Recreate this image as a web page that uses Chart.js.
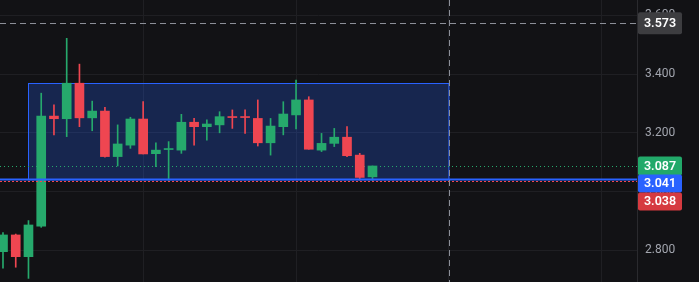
<!DOCTYPE html>
<html>
<head>
<meta charset="utf-8">
<script src="https://cdn.jsdelivr.net/npm/chart.js@4.4.0/dist/chart.umd.min.js"></script>
<style>
  html, body { margin: 0; padding: 0; background: #121215; }
  #wrap { width: 699px; height: 282px; position: relative; }
</style>
</head>
<body>
<div id="wrap"><canvas id="chart"></canvas></div>
<script>
// candles (index = bar number from the left)
var opens  = [2.795, 2.852, 2.778, 2.882, 3.257, 3.248, 3.369, 3.251, 3.274, 3.119,
              3.158, 3.247, 3.129, 3.143, 3.141, 3.236, 3.221, 3.227, 3.255, 3.254,
              3.249, 3.166, 3.221, 3.261, 3.312, 3.141, 3.164, 3.185, 3.124, 3.050];
var highs  = [2.860, 2.855, 2.901, 3.335, 3.295, 3.522, 3.434, 3.308, 3.287, 3.227,
              3.253, 3.306, 3.166, 3.170, 3.263, 3.249, 3.244, 3.272, 3.278, 3.278,
              3.312, 3.249, 3.306, 3.380, 3.323, 3.198, 3.215, 3.221, 3.130, 3.087];
var lows   = [2.739, 2.742, 2.704, 2.878, 3.193, 3.187, 3.221, 3.207, 3.117, 3.087,
              3.147, 3.128, 3.085, 3.039, 3.130, 3.158, 3.175, 3.200, 3.215, 3.198,
              3.155, 3.124, 3.193, 3.213, 3.144, 3.136, 3.153, 3.119, 3.039, 3.038];
var closes = [2.852, 2.778, 2.886, 3.257, 3.248, 3.369, 3.251, 3.274, 3.119, 3.162,
              3.247, 3.128, 3.141, 3.145, 3.236, 3.221, 3.230, 3.255, 3.252, 3.252,
              3.166, 3.223, 3.264, 3.312, 3.144, 3.164, 3.185, 3.122, 3.048, 3.087];

var priceTicks = [2.8, 3.0, 3.2, 3.4, 3.6];
var timeGrid = [11, 23, 35, 47];

// rectangle drawn on the chart
var boxFrom = 2, boxTo = 35, boxLow = 3.041, boxHigh = 3.369;

// crosshair + price lines
var crossIndex = 35, crossPrice = 3.573;
var lastPrice = 3.087, linePrice = 3.041, lowPrice = 3.038;

var UP = '#26a96c', DOWN = '#ef4651', BLUE = '#2962ff';

var idx = opens.map(function (v, i) { return i; });
var colors = idx.map(function (i) { return closes[i] >= opens[i] ? UP : DOWN; });

var overlay = {
    id: 'overlay',
    beforeDatasetsDraw: function (chart) {
        var c = chart.ctx, x = chart.scales.x, y = chart.scales.y, a = chart.chartArea;
        c.save();
        // range box
        var x1 = x.getPixelForValue(boxFrom), x2 = x.getPixelForValue(boxTo);
        var y1 = y.getPixelForValue(boxHigh), y2 = y.getPixelForValue(boxLow);
        c.fillStyle = 'rgba(41,98,255,0.25)';
        c.fillRect(x1, y1, x2 - x1, y2 - y1);
        c.strokeStyle = BLUE;
        c.lineWidth = 1;
        c.strokeRect(Math.round(x1) + 0.5, Math.round(y1) + 0.5, x2 - x1, y2 - y1);

        // last price dotted line
        var yp = Math.round(y.getPixelForValue(lastPrice)) + 0.5;
        c.strokeStyle = UP;
        c.setLineDash([1, 3]);
        c.beginPath(); c.moveTo(a.left, yp); c.lineTo(a.right, yp); c.stroke();
        c.restore();
    },
    afterDatasetsDraw: function (chart) {
        var c = chart.ctx, x = chart.scales.x, y = chart.scales.y, a = chart.chartArea;
        c.save();
        // blue horizontal line
        var yb = y.getPixelForValue(linePrice);
        c.strokeStyle = BLUE;
        c.lineWidth = 2;
        c.beginPath(); c.moveTo(a.left, yb); c.lineTo(a.right, yb); c.stroke();
        // low dotted line
        var yl = Math.round(y.getPixelForValue(lowPrice)) + 1.5;
        c.strokeStyle = DOWN;
        c.lineWidth = 1;
        c.setLineDash([2, 2]);
        c.beginPath(); c.moveTo(a.left, yl); c.lineTo(a.right, yl); c.stroke();
        // crosshair
        c.strokeStyle = '#8c8f98';
        c.setLineDash([6, 4]);
        var yc = Math.round(y.getPixelForValue(crossPrice)) + 0.5;
        var xc = Math.round(x.getPixelForValue(crossIndex)) + 0.5;
        c.beginPath(); c.moveTo(a.left, yc); c.lineTo(a.right, yc); c.stroke();
        c.beginPath(); c.moveTo(xc, a.top); c.lineTo(xc, a.bottom); c.stroke();
        c.restore();
    },
    afterDraw: function (chart) {
        var c = chart.ctx, y = chart.scales.y, a = chart.chartArea;
        var left = a.right + 1, w = 44;
        function badge(val, top, h, bg) {
            c.fillStyle = bg;
            c.beginPath();
            c.roundRect(left, top, w, h, 2);
            c.fill();
            c.fillStyle = '#ffffff';
            c.font = '600 12.5px Roboto, "Liberation Sans", sans-serif';
            c.textAlign = 'center';
            c.textBaseline = 'middle';
            c.fillText(val.toFixed(3), left + w / 2, top + h / 2 + 0.5);
        }
        c.save();
        badge(crossPrice, y.getPixelForValue(crossPrice) - 11, 22, '#3d3d40');
        var h = 18;
        var t1 = y.getPixelForValue(lastPrice) - h / 2 - 0.5;
        var t2 = Math.max(y.getPixelForValue(linePrice) - h / 2, t1 + h);
        var t3 = Math.max(y.getPixelForValue(lowPrice) - h / 2, t2 + h);
        badge(lastPrice, t1, h + 1, '#22a96a');
        badge(linePrice, t2, h, BLUE);
        badge(lowPrice, t3, h, '#d63a40');
        c.restore();
    }
};

new Chart(document.getElementById('chart'), {
    type: 'bar',
    data: {
        datasets: [{
            label: 'body',
            data: idx.map(function (i) { return { x: i, y: [opens[i], closes[i]] }; }),
            backgroundColor: colors,
            barThickness: 9,
            minBarLength: 1,
            grouped: false
        }, {
            label: 'wick',
            data: idx.map(function (i) { return { x: i, y: [lows[i], highs[i]] }; }),
            backgroundColor: colors,
            barThickness: 1,
            grouped: false
        }]
    },
    options: {
        responsive: true,
        maintainAspectRatio: false,
        animation: false,
        layout: { padding: 0 },
        plugins: { legend: { display: false }, tooltip: { enabled: false } },
        scales: {
            x: {
                type: 'linear',
                min: -0.235,
                max: 49.76,
                offset: false,
                grid: { offset: false, color: '#1f1f23', drawTicks: false },
                border: { display: false },
                ticks: { display: false },
                afterBuildTicks: function (s) {
                    s.ticks = timeGrid.map(function (v) { return { value: v }; });
                }
            },
            y: {
                position: 'right',
                min: 2.6917,
                max: 3.6525,
                grid: { color: '#1f1f23', drawTicks: false },
                border: { display: true, color: '#2a2a2e' },
                ticks: {
                    padding: 8,
                    color: '#a3a6af',
                    font: { family: 'Roboto, "Liberation Sans", sans-serif', size: 12 },
                    callback: function (v) { return Number(v).toFixed(3); }
                },
                afterBuildTicks: function (s) {
                    s.ticks = priceTicks.map(function (v) { return { value: v }; });
                },
                afterFit: function (s) {
                    s.width = 62;
                    s.paddingTop = 0;
                    s.paddingBottom = 0;
                }
            }
        }
    },
    plugins: [overlay]
});
</script>
</body>
</html>
